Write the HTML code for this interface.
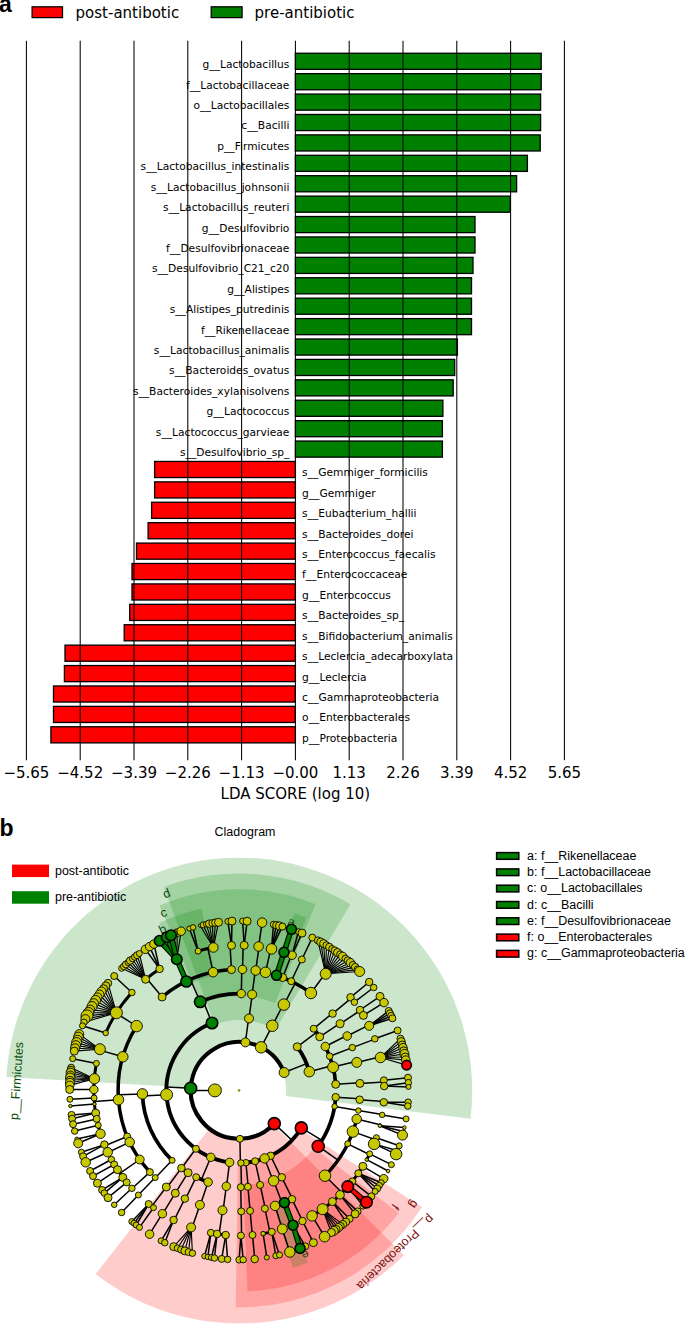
<!DOCTYPE html>
<html><head><meta charset="utf-8"><title>LEfSe</title>
<style>html,body{margin:0;padding:0;background:#fff}svg{display:block}</style></head>
<body><svg width="685" height="1324" viewBox="0 0 685 1324">
<rect width="685" height="1324" fill="#fff"/>
<g font-family="DejaVu Sans, Liberation Sans, sans-serif">
<rect x="32.1" y="6.8" width="30.4" height="10.8" fill="#ff0000" stroke="#000" stroke-width="1.25"/>
<text x="75.6" y="18.2" font-size="15">post-antibotic</text>
<rect x="211.2" y="6.8" width="30.9" height="10.8" fill="#008000" stroke="#000" stroke-width="1.25"/>
<text x="254.6" y="18.2" font-size="15">pre-antibiotic</text>
<rect x="295.4" y="53.25" width="245.8" height="16.1" fill="#008000" stroke="#000" stroke-width="1.3"/>
<rect x="295.4" y="73.66" width="245.8" height="16.1" fill="#008000" stroke="#000" stroke-width="1.3"/>
<rect x="295.4" y="94.07" width="245.2" height="16.1" fill="#008000" stroke="#000" stroke-width="1.3"/>
<rect x="295.4" y="114.48" width="245.2" height="16.1" fill="#008000" stroke="#000" stroke-width="1.3"/>
<rect x="295.4" y="134.89" width="244.8" height="16.1" fill="#008000" stroke="#000" stroke-width="1.3"/>
<rect x="295.4" y="155.30" width="232.0" height="16.1" fill="#008000" stroke="#000" stroke-width="1.3"/>
<rect x="295.4" y="175.71" width="221.2" height="16.1" fill="#008000" stroke="#000" stroke-width="1.3"/>
<rect x="295.4" y="196.12" width="214.9" height="16.1" fill="#008000" stroke="#000" stroke-width="1.3"/>
<rect x="295.4" y="216.53" width="179.6" height="16.1" fill="#008000" stroke="#000" stroke-width="1.3"/>
<rect x="295.4" y="236.94" width="179.6" height="16.1" fill="#008000" stroke="#000" stroke-width="1.3"/>
<rect x="295.4" y="257.35" width="177.6" height="16.1" fill="#008000" stroke="#000" stroke-width="1.3"/>
<rect x="295.4" y="277.76" width="176.1" height="16.1" fill="#008000" stroke="#000" stroke-width="1.3"/>
<rect x="295.4" y="298.17" width="176.1" height="16.1" fill="#008000" stroke="#000" stroke-width="1.3"/>
<rect x="295.4" y="318.58" width="176.1" height="16.1" fill="#008000" stroke="#000" stroke-width="1.3"/>
<rect x="295.4" y="338.99" width="162.0" height="16.1" fill="#008000" stroke="#000" stroke-width="1.3"/>
<rect x="295.4" y="359.40" width="159.3" height="16.1" fill="#008000" stroke="#000" stroke-width="1.3"/>
<rect x="295.4" y="379.81" width="157.8" height="16.1" fill="#008000" stroke="#000" stroke-width="1.3"/>
<rect x="295.4" y="400.22" width="147.5" height="16.1" fill="#008000" stroke="#000" stroke-width="1.3"/>
<rect x="295.4" y="420.63" width="147.0" height="16.1" fill="#008000" stroke="#000" stroke-width="1.3"/>
<rect x="295.4" y="441.04" width="147.0" height="16.1" fill="#008000" stroke="#000" stroke-width="1.3"/>
<rect x="154.6" y="461.45" width="140.8" height="16.1" fill="#ff0000" stroke="#000" stroke-width="1.3"/>
<rect x="154.6" y="481.86" width="140.8" height="16.1" fill="#ff0000" stroke="#000" stroke-width="1.3"/>
<rect x="151.6" y="502.27" width="143.8" height="16.1" fill="#ff0000" stroke="#000" stroke-width="1.3"/>
<rect x="148.1" y="522.68" width="147.3" height="16.1" fill="#ff0000" stroke="#000" stroke-width="1.3"/>
<rect x="136.5" y="543.09" width="158.9" height="16.1" fill="#ff0000" stroke="#000" stroke-width="1.3"/>
<rect x="132.0" y="563.50" width="163.4" height="16.1" fill="#ff0000" stroke="#000" stroke-width="1.3"/>
<rect x="132.0" y="583.91" width="163.4" height="16.1" fill="#ff0000" stroke="#000" stroke-width="1.3"/>
<rect x="129.7" y="604.32" width="165.7" height="16.1" fill="#ff0000" stroke="#000" stroke-width="1.3"/>
<rect x="124.2" y="624.73" width="171.2" height="16.1" fill="#ff0000" stroke="#000" stroke-width="1.3"/>
<rect x="65.0" y="645.14" width="230.4" height="16.1" fill="#ff0000" stroke="#000" stroke-width="1.3"/>
<rect x="64.4" y="665.55" width="231.0" height="16.1" fill="#ff0000" stroke="#000" stroke-width="1.3"/>
<rect x="53.5" y="685.96" width="241.8" height="16.1" fill="#ff0000" stroke="#000" stroke-width="1.3"/>
<rect x="53.5" y="706.37" width="241.8" height="16.1" fill="#ff0000" stroke="#000" stroke-width="1.3"/>
<rect x="50.9" y="726.78" width="244.5" height="16.1" fill="#ff0000" stroke="#000" stroke-width="1.3"/>
<text x="289.4" y="68.2" font-size="10.67" text-anchor="end">g__Lactobacillus</text>
<text x="289.4" y="88.6" font-size="10.67" text-anchor="end">f__Lactobacillaceae</text>
<text x="289.4" y="109.0" font-size="10.67" text-anchor="end">o__Lactobacillales</text>
<text x="289.4" y="129.4" font-size="10.67" text-anchor="end">c__Bacilli</text>
<text x="289.4" y="149.8" font-size="10.67" text-anchor="end">p__Firmicutes</text>
<text x="289.4" y="170.2" font-size="10.67" text-anchor="end">s__Lactobacillus_intestinalis</text>
<text x="289.4" y="190.7" font-size="10.67" text-anchor="end">s__Lactobacillus_johnsonii</text>
<text x="289.4" y="211.1" font-size="10.67" text-anchor="end">s__Lactobacillus_reuteri</text>
<text x="289.4" y="231.5" font-size="10.67" text-anchor="end">g__Desulfovibrio</text>
<text x="289.4" y="251.9" font-size="10.67" text-anchor="end">f__Desulfovibrionaceae</text>
<text x="289.4" y="272.3" font-size="10.67" text-anchor="end">s__Desulfovibrio_C21_c20</text>
<text x="289.4" y="292.7" font-size="10.67" text-anchor="end">g__Alistipes</text>
<text x="289.4" y="313.1" font-size="10.67" text-anchor="end">s__Alistipes_putredinis</text>
<text x="289.4" y="333.5" font-size="10.67" text-anchor="end">f__Rikenellaceae</text>
<text x="289.4" y="353.9" font-size="10.67" text-anchor="end">s__Lactobacillus_animalis</text>
<text x="289.4" y="374.3" font-size="10.67" text-anchor="end">s__Bacteroides_ovatus</text>
<text x="289.4" y="394.8" font-size="10.67" text-anchor="end">s__Bacteroides_xylanisolvens</text>
<text x="289.4" y="415.2" font-size="10.67" text-anchor="end">g__Lactococcus</text>
<text x="289.4" y="435.6" font-size="10.67" text-anchor="end">s__Lactococcus_garvieae</text>
<text x="289.4" y="456.0" font-size="10.67" text-anchor="end">s__Desulfovibrio_sp_</text>
<text x="302" y="476.4" font-size="10.67">s__Gemmiger_formicilis</text>
<text x="302" y="496.8" font-size="10.67">g__Gemmiger</text>
<text x="302" y="517.2" font-size="10.67">s__Eubacterium_hallii</text>
<text x="302" y="537.6" font-size="10.67">s__Bacteroides_dorei</text>
<text x="302" y="558.0" font-size="10.67">s__Enterococcus_faecalis</text>
<text x="302" y="578.4" font-size="10.67">f__Enterococcaceae</text>
<text x="302" y="598.9" font-size="10.67">g__Enterococcus</text>
<text x="302" y="619.3" font-size="10.67">s__Bacteroides_sp_</text>
<text x="302" y="639.7" font-size="10.67">s__Bifidobacterium_animalis</text>
<text x="302" y="660.1" font-size="10.67">s__Leclercia_adecarboxylata</text>
<text x="302" y="680.5" font-size="10.67">g__Leclercia</text>
<text x="302" y="700.9" font-size="10.67">c__Gammaproteobacteria</text>
<text x="302" y="721.3" font-size="10.67">o__Enterobacterales</text>
<text x="302" y="741.7" font-size="10.67">p__Proteobacteria</text>
<line x1="26.4" y1="40.8" x2="26.4" y2="760.2" stroke="#000" stroke-width="1.05"/>
<line x1="80.2" y1="40.8" x2="80.2" y2="760.2" stroke="#000" stroke-width="1.05"/>
<line x1="134.0" y1="40.8" x2="134.0" y2="760.2" stroke="#000" stroke-width="1.05"/>
<line x1="187.8" y1="40.8" x2="187.8" y2="760.2" stroke="#000" stroke-width="1.05"/>
<line x1="241.6" y1="40.8" x2="241.6" y2="760.2" stroke="#000" stroke-width="1.05"/>
<line x1="295.4" y1="40.8" x2="295.4" y2="760.2" stroke="#000" stroke-width="1.05"/>
<line x1="349.2" y1="40.8" x2="349.2" y2="760.2" stroke="#000" stroke-width="1.05"/>
<line x1="403.0" y1="40.8" x2="403.0" y2="760.2" stroke="#000" stroke-width="1.05"/>
<line x1="456.8" y1="40.8" x2="456.8" y2="760.2" stroke="#000" stroke-width="1.05"/>
<line x1="510.6" y1="40.8" x2="510.6" y2="760.2" stroke="#000" stroke-width="1.05"/>
<line x1="564.4" y1="40.8" x2="564.4" y2="760.2" stroke="#000" stroke-width="1.05"/>
<text x="26.4" y="777.9" font-size="15" text-anchor="middle">−5.65</text>
<text x="80.2" y="777.9" font-size="15" text-anchor="middle">−4.52</text>
<text x="134.0" y="777.9" font-size="15" text-anchor="middle">−3.39</text>
<text x="187.8" y="777.9" font-size="15" text-anchor="middle">−2.26</text>
<text x="241.6" y="777.9" font-size="15" text-anchor="middle">−1.13</text>
<text x="295.4" y="777.9" font-size="15" text-anchor="middle">−0.00</text>
<text x="349.2" y="777.9" font-size="15" text-anchor="middle">1.13</text>
<text x="403.0" y="777.9" font-size="15" text-anchor="middle">2.26</text>
<text x="456.8" y="777.9" font-size="15" text-anchor="middle">3.39</text>
<text x="510.6" y="777.9" font-size="15" text-anchor="middle">4.52</text>
<text x="564.4" y="777.9" font-size="15" text-anchor="middle">5.65</text>
<text x="295.4" y="799" font-size="15" text-anchor="middle">LDA SCORE (log 10)</text>
</g>
<g font-family="Liberation Sans, sans-serif" font-weight="bold" font-size="23">
<text x="-0.9" y="12.3">a</text>
<text x="-0.5" y="836">b</text>
</g>
<g>
<path d="M285.7,1096.1L470.5,1118.8A233.1,233.1 0 1 0 6.4,1077.0L192.2,1087.7A47,47 0 1 1 285.7,1096.1Z" fill="#008000" fill-opacity="0.2"/>
<path d="M275.3,1029.9L350.5,904.3A216.9,216.9 0 0 0 163.8,887.0L214.6,1024.3A70.5,70.5 0 0 1 275.3,1029.9Z" fill="#008000" fill-opacity="0.2"/>
<path d="M275.0,1003.0L315.4,904.2A201.2,201.2 0 0 0 159.5,905.6L201.7,1003.6A94.5,94.5 0 0 1 275.0,1003.0Z" fill="#008000" fill-opacity="0.2"/>
<path d="M215.3,975.3L201.5,908.7A185.6,185.6 0 0 0 159.2,922.9L188.5,984.3A117.5,117.5 0 0 1 215.3,975.3Z" fill="#008000" fill-opacity="0.2"/>
<path d="M281.6,980.9L306.2,917.4A185.6,185.6 0 0 0 294.3,913.2L274.0,978.2A117.5,117.5 0 0 1 281.6,980.9Z" fill="#008000" fill-opacity="0.2"/>
<path d="M210.2,1127.4L95.6,1274.1A233.1,233.1 0 0 0 403.9,1255.2L272.3,1123.6A47,47 0 0 1 210.2,1127.4Z" fill="#ff0000" fill-opacity="0.2"/>
<path d="M238.0,1160.9L235.7,1307.3A216.9,216.9 0 0 0 422.0,1206.9L298.6,1128.3A70.5,70.5 0 0 1 238.0,1160.9Z" fill="#ff0000" fill-opacity="0.2"/>
<path d="M243.1,1184.8L247.5,1291.4A201.2,201.2 0 0 0 398.7,1212.9L314.1,1147.9A94.5,94.5 0 0 1 243.1,1184.8Z" fill="#ff0000" fill-opacity="0.2"/>
<path d="M273.1,1202.9L292.7,1268.1A185.6,185.6 0 0 0 307.7,1262.8L282.5,1199.6A117.5,117.5 0 0 1 273.1,1202.9Z" fill="#008000" fill-opacity="0.2"/>
</g>
<g font-family="Liberation Sans, sans-serif"><text x="291.6" y="925.9" font-size="12.45" fill="#0a4d0a" text-anchor="middle" transform="rotate(17.3 291.6 921.7)">a</text>
<text x="162.6" y="933.4" font-size="12.45" fill="#0a4d0a" text-anchor="middle" transform="rotate(-25.4 162.6 929.2)">b</text>
<text x="163.6" y="916.8" font-size="12.45" fill="#0a4d0a" text-anchor="middle" transform="rotate(-23.0 163.6 912.6)">c</text>
<text x="166.6" y="897.5" font-size="12.45" fill="#0a4d0a" text-anchor="middle" transform="rotate(-20.2 166.6 893.3)">d</text>
<text x="305.3" y="1259.2" font-size="12.45" fill="#0a4d0a" text-anchor="middle" transform="rotate(158.1 305.3 1255.0)">e</text>
<text x="395.4" y="1211.1" font-size="12.45" fill="#7a1010" text-anchor="middle" transform="rotate(126.7 395.4 1206.9)">f</text>
<text x="414.2" y="1208.7" font-size="12.45" fill="#7a1010" text-anchor="middle" transform="rotate(123.1 414.2 1204.5)">g</text></g>
<g fill="none" stroke="#000" stroke-linecap="round">
<path d="M284.1,1072.5A48.4,48.4 0 1 0 274.3,1123.6" stroke-width="4.1"/>
<line x1="214.9" y1="1090.4" x2="190.7" y2="1090.4" stroke="#000" stroke-width="1.5"/>
<path d="M212.0,1023.0A72.6,72.6 0 0 0 229.6,1162.4" stroke-width="3.9"/>
<line x1="190.7" y1="1088.2" x2="166.6" y2="1087.1" stroke="#000" stroke-width="1.5"/>
<path d="M241.3,993.6A96.8,96.8 0 0 0 200.2,1001.8" stroke-width="3.7"/>
<line x1="212.0" y1="1023.0" x2="203.0" y2="1000.6" stroke="#000" stroke-width="1.5"/>
<path d="M231.5,969.6A121.0,121.0 0 0 0 162.1,997.0" stroke-width="3.5"/>
<line x1="200.2" y1="1001.8" x2="190.5" y2="979.6" stroke="#000" stroke-width="1.5"/>
<path d="M159.6,968.9A145.2,145.2 0 0 0 145.6,979.3" stroke-width="3.0"/>
<line x1="162.1" y1="997.0" x2="146.7" y2="978.4" stroke="#000" stroke-width="1.5"/>
<line x1="159.6" y1="968.9" x2="145.4" y2="949.3" stroke="#000" stroke-width="1.5"/>
<line x1="159.6" y1="968.9" x2="149.6" y2="946.6" stroke="#000" stroke-width="1.5"/>
<line x1="159.6" y1="968.9" x2="153.9" y2="944.0" stroke="#000" stroke-width="1.5"/>
<line x1="145.6" y1="979.3" x2="121.6" y2="968.3" stroke="#000" stroke-width="1.15"/>
<line x1="145.6" y1="979.3" x2="123.7" y2="966.4" stroke="#000" stroke-width="1.15"/>
<line x1="145.6" y1="979.3" x2="125.9" y2="964.4" stroke="#000" stroke-width="1.15"/>
<line x1="145.6" y1="979.3" x2="128.0" y2="962.5" stroke="#000" stroke-width="1.15"/>
<line x1="145.6" y1="979.3" x2="130.2" y2="960.6" stroke="#000" stroke-width="1.15"/>
<line x1="145.6" y1="979.3" x2="132.4" y2="958.8" stroke="#000" stroke-width="1.15"/>
<line x1="145.6" y1="979.3" x2="134.7" y2="957.0" stroke="#000" stroke-width="1.15"/>
<line x1="145.6" y1="979.3" x2="137.0" y2="955.2" stroke="#000" stroke-width="1.15"/>
<line x1="145.6" y1="979.3" x2="139.3" y2="953.5" stroke="#000" stroke-width="1.15"/>
<path d="M176.8,959.2A145.2,145.2 0 0 0 175.9,959.7" stroke-width="3.0"/>
<line x1="186.4" y1="981.5" x2="175.9" y2="959.7" stroke="#000" stroke-width="1.5"/>
<line x1="176.8" y1="959.2" x2="177.3" y2="932.7" stroke="#000" stroke-width="1.15"/>
<line x1="176.8" y1="959.2" x2="181.2" y2="931.2" stroke="#000" stroke-width="1.15"/>
<line x1="176.8" y1="959.2" x2="174.0" y2="934.0" stroke="#000" stroke-width="1.15"/>
<path d="M213.4,947.5A145.2,145.2 0 0 0 198.1,951.1" stroke-width="3.0"/>
<line x1="213.1" y1="972.2" x2="207.9" y2="948.6" stroke="#000" stroke-width="1.5"/>
<line x1="198.1" y1="951.1" x2="189.3" y2="928.5" stroke="#000" stroke-width="1.5"/>
<line x1="198.1" y1="951.1" x2="193.0" y2="927.4" stroke="#000" stroke-width="1.5"/>
<line x1="213.4" y1="947.5" x2="200.1" y2="925.5" stroke="#000" stroke-width="1.15"/>
<line x1="213.4" y1="947.5" x2="203.2" y2="924.9" stroke="#000" stroke-width="1.15"/>
<line x1="213.4" y1="947.5" x2="206.2" y2="924.2" stroke="#000" stroke-width="1.15"/>
<line x1="213.4" y1="947.5" x2="209.2" y2="923.7" stroke="#000" stroke-width="1.15"/>
<line x1="213.4" y1="947.5" x2="212.3" y2="923.1" stroke="#000" stroke-width="1.15"/>
<line x1="213.4" y1="947.5" x2="215.4" y2="922.7" stroke="#000" stroke-width="1.15"/>
<line x1="213.4" y1="947.5" x2="218.5" y2="922.3" stroke="#000" stroke-width="1.15"/>
<path d="M231.5,945.4A145.2,145.2 0 0 0 230.0,945.5" stroke-width="3.0"/>
<line x1="231.5" y1="969.6" x2="230.0" y2="945.5" stroke="#000" stroke-width="1.5"/>
<line x1="231.5" y1="945.4" x2="227.9" y2="921.4" stroke="#000" stroke-width="1.5"/>
<line x1="231.5" y1="945.4" x2="232.0" y2="921.1" stroke="#000" stroke-width="1.5"/>
<path d="M242.5,969.4A121.0,121.0 0 0 0 241.8,969.4" stroke-width="3.5"/>
<line x1="241.3" y1="993.6" x2="241.8" y2="969.4" stroke="#000" stroke-width="1.5"/>
<path d="M244.2,945.3A145.2,145.2 0 0 0 243.2,945.3" stroke-width="3.0"/>
<line x1="242.5" y1="969.4" x2="243.2" y2="945.3" stroke="#000" stroke-width="1.5"/>
<line x1="244.2" y1="945.3" x2="242.6" y2="921.0" stroke="#000" stroke-width="1.5"/>
<line x1="244.2" y1="945.3" x2="247.1" y2="921.2" stroke="#000" stroke-width="1.5"/>
<path d="M142.4,1093.9A96.8,96.8 0 0 0 172.1,1160.3" stroke-width="3.7"/>
<line x1="166.6" y1="1094.7" x2="142.5" y2="1096.1" stroke="#000" stroke-width="1.5"/>
<path d="M136.6,1026.1A121.0,121.0 0 0 0 149.9,1172.1" stroke-width="3.5"/>
<line x1="142.4" y1="1093.9" x2="118.2" y2="1094.8" stroke="#000" stroke-width="1.5"/>
<path d="M131.9,992.5A145.2,145.2 0 0 0 105.7,1033.0" stroke-width="3.0"/>
<line x1="136.6" y1="1026.1" x2="116.1" y2="1013.2" stroke="#000" stroke-width="1.5"/>
<line x1="131.9" y1="992.5" x2="114.2" y2="976.0" stroke="#000" stroke-width="1.5"/>
<line x1="116.4" y1="1012.8" x2="108.0" y2="983.1" stroke="#000" stroke-width="1.15"/>
<line x1="116.4" y1="1012.8" x2="105.8" y2="985.9" stroke="#000" stroke-width="1.15"/>
<line x1="116.4" y1="1012.8" x2="103.6" y2="988.7" stroke="#000" stroke-width="1.15"/>
<line x1="116.4" y1="1012.8" x2="101.5" y2="991.5" stroke="#000" stroke-width="1.15"/>
<line x1="116.4" y1="1012.8" x2="99.5" y2="994.5" stroke="#000" stroke-width="1.15"/>
<line x1="116.4" y1="1012.8" x2="97.5" y2="997.4" stroke="#000" stroke-width="1.15"/>
<line x1="116.4" y1="1012.8" x2="95.6" y2="1000.4" stroke="#000" stroke-width="1.15"/>
<line x1="116.4" y1="1012.8" x2="93.7" y2="1003.4" stroke="#000" stroke-width="1.15"/>
<line x1="116.4" y1="1012.8" x2="92.0" y2="1006.5" stroke="#000" stroke-width="1.15"/>
<line x1="116.4" y1="1012.8" x2="90.2" y2="1009.6" stroke="#000" stroke-width="1.15"/>
<line x1="116.4" y1="1012.8" x2="88.6" y2="1012.7" stroke="#000" stroke-width="1.15"/>
<line x1="116.4" y1="1012.8" x2="87.0" y2="1015.9" stroke="#000" stroke-width="1.15"/>
<line x1="116.4" y1="1012.8" x2="85.4" y2="1019.1" stroke="#000" stroke-width="1.15"/>
<line x1="116.4" y1="1012.8" x2="84.0" y2="1022.3" stroke="#000" stroke-width="1.15"/>
<line x1="105.7" y1="1033.0" x2="82.5" y2="1025.8" stroke="#000" stroke-width="1.5"/>
<path d="M99.9,1049.2A145.2,145.2 0 0 0 99.6,1050.1" stroke-width="3.0"/>
<line x1="122.8" y1="1056.8" x2="99.6" y2="1050.1" stroke="#000" stroke-width="1.5"/>
<line x1="99.9" y1="1049.2" x2="79.3" y2="1034.1" stroke="#000" stroke-width="1.15"/>
<line x1="99.9" y1="1049.2" x2="78.4" y2="1036.9" stroke="#000" stroke-width="1.15"/>
<line x1="99.9" y1="1049.2" x2="77.5" y2="1039.7" stroke="#000" stroke-width="1.15"/>
<line x1="99.9" y1="1049.2" x2="76.6" y2="1042.6" stroke="#000" stroke-width="1.15"/>
<line x1="99.9" y1="1049.2" x2="75.8" y2="1045.4" stroke="#000" stroke-width="1.15"/>
<line x1="99.9" y1="1049.2" x2="75.0" y2="1048.3" stroke="#000" stroke-width="1.15"/>
<line x1="99.9" y1="1049.2" x2="74.3" y2="1051.1" stroke="#000" stroke-width="1.15"/>
<path d="M96.4,1063.4A145.2,145.2 0 0 0 100.5,1133.8" stroke-width="3.0"/>
<line x1="118.5" y1="1099.7" x2="94.3" y2="1101.5" stroke="#000" stroke-width="1.5"/>
<line x1="96.4" y1="1063.4" x2="72.7" y2="1058.7" stroke="#000" stroke-width="1.5"/>
<line x1="94.4" y1="1078.8" x2="71.2" y2="1067.7" stroke="#000" stroke-width="1.15"/>
<line x1="94.4" y1="1078.8" x2="70.9" y2="1070.2" stroke="#000" stroke-width="1.15"/>
<line x1="94.4" y1="1078.8" x2="70.6" y2="1072.7" stroke="#000" stroke-width="1.15"/>
<line x1="94.4" y1="1078.8" x2="70.4" y2="1075.3" stroke="#000" stroke-width="1.15"/>
<line x1="94.4" y1="1078.8" x2="70.2" y2="1077.8" stroke="#000" stroke-width="1.15"/>
<line x1="94.4" y1="1078.8" x2="70.0" y2="1080.3" stroke="#000" stroke-width="1.15"/>
<line x1="94.4" y1="1078.8" x2="69.9" y2="1082.8" stroke="#000" stroke-width="1.15"/>
<line x1="94.4" y1="1078.8" x2="69.8" y2="1085.4" stroke="#000" stroke-width="1.15"/>
<line x1="93.9" y1="1089.6" x2="69.7" y2="1089.5" stroke="#000" stroke-width="1.5"/>
<line x1="94.1" y1="1098.0" x2="69.9" y2="1099.3" stroke="#000" stroke-width="1.5"/>
<line x1="94.5" y1="1104.1" x2="70.4" y2="1106.0" stroke="#000" stroke-width="1.5"/>
<line x1="95.7" y1="1113.1" x2="71.5" y2="1114.9" stroke="#000" stroke-width="1.5"/>
<line x1="95.7" y1="1113.1" x2="72.1" y2="1118.7" stroke="#000" stroke-width="1.5"/>
<line x1="96.7" y1="1118.9" x2="73.1" y2="1124.2" stroke="#000" stroke-width="1.5"/>
<line x1="98.2" y1="1125.3" x2="74.7" y2="1131.1" stroke="#000" stroke-width="1.5"/>
<line x1="100.5" y1="1133.8" x2="76.8" y2="1139.1" stroke="#000" stroke-width="1.5"/>
<line x1="100.5" y1="1133.8" x2="78.2" y2="1143.3" stroke="#000" stroke-width="1.5"/>
<path d="M104.4,1144.6A145.2,145.2 0 0 0 104.9,1145.7" stroke-width="3.0"/>
<line x1="127.2" y1="1136.5" x2="104.9" y2="1145.7" stroke="#000" stroke-width="1.5"/>
<line x1="104.4" y1="1144.6" x2="81.4" y2="1152.2" stroke="#000" stroke-width="1.5"/>
<line x1="104.4" y1="1144.6" x2="83.1" y2="1156.3" stroke="#000" stroke-width="1.5"/>
<path d="M107.7,1152.2A145.2,145.2 0 0 0 107.8,1152.5" stroke-width="3.0"/>
<line x1="129.7" y1="1142.1" x2="107.8" y2="1152.5" stroke="#000" stroke-width="1.5"/>
<line x1="107.7" y1="1152.2" x2="85.7" y2="1162.3" stroke="#000" stroke-width="1.5"/>
<path d="M111.4,1159.5A145.2,145.2 0 0 0 126.7,1182.4" stroke-width="3.0"/>
<line x1="139.7" y1="1159.5" x2="119.9" y2="1173.3" stroke="#000" stroke-width="1.5"/>
<line x1="111.4" y1="1159.5" x2="90.1" y2="1171.0" stroke="#000" stroke-width="1.5"/>
<line x1="114.2" y1="1164.5" x2="93.0" y2="1176.1" stroke="#000" stroke-width="1.5"/>
<line x1="117.5" y1="1169.7" x2="97.4" y2="1183.2" stroke="#000" stroke-width="1.5"/>
<line x1="122.8" y1="1177.4" x2="102.1" y2="1190.0" stroke="#000" stroke-width="1.5"/>
<line x1="122.8" y1="1177.4" x2="104.3" y2="1193.1" stroke="#000" stroke-width="1.5"/>
<line x1="126.7" y1="1182.4" x2="108.0" y2="1197.7" stroke="#000" stroke-width="1.5"/>
<path d="M131.9,1188.3A145.2,145.2 0 0 0 132.0,1188.5" stroke-width="3.0"/>
<line x1="149.9" y1="1172.1" x2="132.0" y2="1188.5" stroke="#000" stroke-width="1.5"/>
<line x1="131.9" y1="1188.3" x2="114.2" y2="1204.8" stroke="#000" stroke-width="1.5"/>
<path d="M155.2,1177.6A121.0,121.0 0 0 0 155.4,1177.7" stroke-width="3.5"/>
<line x1="172.1" y1="1160.3" x2="155.4" y2="1177.7" stroke="#000" stroke-width="1.5"/>
<line x1="155.2" y1="1177.6" x2="138.4" y2="1195.0" stroke="#000" stroke-width="1.5"/>
<line x1="138.4" y1="1195.0" x2="121.6" y2="1212.5" stroke="#000" stroke-width="1.5"/>
<path d="M181.4,1168.1A96.8,96.8 0 0 0 188.1,1172.7" stroke-width="3.7"/>
<line x1="195.9" y1="1148.8" x2="181.5" y2="1168.2" stroke="#000" stroke-width="1.5"/>
<path d="M166.3,1187.0A121.0,121.0 0 0 0 167.0,1187.5" stroke-width="3.5"/>
<line x1="181.4" y1="1168.1" x2="167.0" y2="1187.5" stroke="#000" stroke-width="1.5"/>
<path d="M148.7,1204.0A145.2,145.2 0 0 0 153.5,1207.7" stroke-width="3.0"/>
<line x1="166.3" y1="1187.0" x2="151.7" y2="1206.4" stroke="#000" stroke-width="1.5"/>
<line x1="148.7" y1="1204.0" x2="131.8" y2="1221.5" stroke="#000" stroke-width="1.5"/>
<line x1="148.7" y1="1204.0" x2="134.0" y2="1223.2" stroke="#000" stroke-width="1.5"/>
<line x1="148.7" y1="1204.0" x2="136.2" y2="1225.0" stroke="#000" stroke-width="1.5"/>
<line x1="153.5" y1="1207.7" x2="139.5" y2="1227.4" stroke="#000" stroke-width="1.5"/>
<line x1="188.1" y1="1172.7" x2="175.3" y2="1193.2" stroke="#000" stroke-width="1.5"/>
<path d="M162.4,1213.7A145.2,145.2 0 0 0 162.6,1213.8" stroke-width="3.0"/>
<line x1="175.3" y1="1193.2" x2="162.6" y2="1213.8" stroke="#000" stroke-width="1.5"/>
<line x1="162.4" y1="1213.7" x2="149.6" y2="1234.2" stroke="#000" stroke-width="1.5"/>
<path d="M196.2,1177.2A96.8,96.8 0 0 0 208.1,1182.1" stroke-width="3.7"/>
<line x1="210.8" y1="1157.3" x2="201.4" y2="1179.6" stroke="#000" stroke-width="1.5"/>
<path d="M184.9,1198.6A121.0,121.0 0 0 0 185.5,1198.9" stroke-width="3.5"/>
<line x1="196.2" y1="1177.2" x2="185.5" y2="1198.9" stroke="#000" stroke-width="1.5"/>
<path d="M173.6,1220.0A145.2,145.2 0 0 0 174.1,1220.2" stroke-width="3.0"/>
<line x1="184.9" y1="1198.6" x2="174.1" y2="1220.2" stroke="#000" stroke-width="1.5"/>
<line x1="173.6" y1="1220.0" x2="161.1" y2="1240.8" stroke="#000" stroke-width="1.5"/>
<line x1="173.6" y1="1220.0" x2="164.8" y2="1242.7" stroke="#000" stroke-width="1.5"/>
<path d="M199.9,1204.9A121.0,121.0 0 0 0 200.3,1205.0" stroke-width="3.5"/>
<line x1="208.1" y1="1182.1" x2="200.3" y2="1205.0" stroke="#000" stroke-width="1.5"/>
<path d="M191.1,1227.4A145.2,145.2 0 0 0 192.1,1227.8" stroke-width="3.0"/>
<line x1="199.9" y1="1204.9" x2="192.1" y2="1227.8" stroke="#000" stroke-width="1.5"/>
<line x1="191.1" y1="1227.4" x2="173.7" y2="1246.7" stroke="#000" stroke-width="1.15"/>
<line x1="191.1" y1="1227.4" x2="177.4" y2="1248.2" stroke="#000" stroke-width="1.15"/>
<line x1="191.1" y1="1227.4" x2="181.1" y2="1249.6" stroke="#000" stroke-width="1.15"/>
<line x1="191.1" y1="1227.4" x2="184.8" y2="1250.9" stroke="#000" stroke-width="1.15"/>
<line x1="191.1" y1="1227.4" x2="188.6" y2="1252.1" stroke="#000" stroke-width="1.15"/>
<line x1="191.1" y1="1227.4" x2="192.4" y2="1253.2" stroke="#000" stroke-width="1.15"/>
<path d="M226.3,1186.3A96.8,96.8 0 0 0 226.5,1186.4" stroke-width="3.7"/>
<line x1="229.6" y1="1162.4" x2="226.5" y2="1186.4" stroke="#000" stroke-width="1.5"/>
<path d="M222.5,1210.3A121.0,121.0 0 0 0 223.1,1210.3" stroke-width="3.5"/>
<line x1="226.3" y1="1186.3" x2="223.1" y2="1210.3" stroke="#000" stroke-width="1.5"/>
<path d="M210.9,1232.8A145.2,145.2 0 0 0 225.7,1235.0" stroke-width="3.0"/>
<line x1="222.5" y1="1210.3" x2="219.1" y2="1234.2" stroke="#000" stroke-width="1.5"/>
<line x1="210.9" y1="1232.8" x2="204.5" y2="1256.2" stroke="#000" stroke-width="1.5"/>
<line x1="210.9" y1="1232.8" x2="207.9" y2="1256.9" stroke="#000" stroke-width="1.5"/>
<line x1="217.1" y1="1233.9" x2="211.4" y2="1257.5" stroke="#000" stroke-width="1.5"/>
<line x1="217.1" y1="1233.9" x2="214.4" y2="1258.0" stroke="#000" stroke-width="1.5"/>
<line x1="225.7" y1="1235.0" x2="221.7" y2="1258.9" stroke="#000" stroke-width="1.5"/>
<line x1="225.7" y1="1235.0" x2="227.6" y2="1259.4" stroke="#000" stroke-width="1.5"/>
<path d="M249.0,1018.5A72.6,72.6 0 0 0 248.6,1018.4" stroke-width="3.9"/>
<line x1="245.4" y1="1042.4" x2="248.6" y2="1018.4" stroke="#000" stroke-width="1.5"/>
<path d="M252.2,994.5A96.8,96.8 0 0 0 252.1,994.5" stroke-width="3.7"/>
<line x1="249.0" y1="1018.5" x2="252.2" y2="994.5" stroke="#000" stroke-width="1.5"/>
<path d="M265.5,972.3A121.0,121.0 0 0 0 255.3,970.5" stroke-width="3.5"/>
<line x1="252.1" y1="994.5" x2="255.3" y2="970.5" stroke="#000" stroke-width="1.5"/>
<path d="M259.1,946.6A145.2,145.2 0 0 0 258.6,946.5" stroke-width="3.0"/>
<line x1="255.7" y1="970.5" x2="259.1" y2="946.6" stroke="#000" stroke-width="1.5"/>
<line x1="258.6" y1="946.5" x2="262.1" y2="922.6" stroke="#000" stroke-width="1.5"/>
<path d="M271.5,948.9A145.2,145.2 0 0 0 270.8,948.7" stroke-width="3.0"/>
<line x1="265.5" y1="972.3" x2="270.8" y2="948.7" stroke="#000" stroke-width="1.5"/>
<line x1="271.5" y1="948.9" x2="273.5" y2="924.5" stroke="#000" stroke-width="1.5"/>
<line x1="271.5" y1="948.9" x2="276.4" y2="925.2" stroke="#000" stroke-width="1.5"/>
<line x1="271.5" y1="948.9" x2="279.4" y2="925.9" stroke="#000" stroke-width="1.5"/>
<line x1="271.5" y1="948.9" x2="282.4" y2="926.6" stroke="#000" stroke-width="1.5"/>
<path d="M272.3,1025.8A72.6,72.6 0 0 0 272.2,1025.8" stroke-width="3.9"/>
<line x1="261.1" y1="1047.3" x2="272.2" y2="1025.8" stroke="#000" stroke-width="1.5"/>
<path d="M283.9,1004.6A96.8,96.8 0 0 0 283.3,1004.3" stroke-width="3.7"/>
<line x1="272.3" y1="1025.8" x2="283.3" y2="1004.3" stroke="#000" stroke-width="1.5"/>
<path d="M310.9,993.0A121.0,121.0 0 0 0 276.5,975.3" stroke-width="3.5"/>
<line x1="283.9" y1="1004.6" x2="295.2" y2="983.2" stroke="#000" stroke-width="1.5"/>
<line x1="276.5" y1="975.3" x2="284.0" y2="952.3" stroke="#000" stroke-width="1.5"/>
<path d="M292.1,955.2A145.2,145.2 0 0 0 291.4,954.9" stroke-width="3.0"/>
<line x1="282.7" y1="977.5" x2="291.4" y2="954.9" stroke="#000" stroke-width="1.5"/>
<line x1="292.1" y1="955.2" x2="298.4" y2="931.7" stroke="#000" stroke-width="1.5"/>
<line x1="292.1" y1="955.2" x2="302.0" y2="933.1" stroke="#000" stroke-width="1.5"/>
<path d="M301.8,959.5A145.2,145.2 0 0 0 301.6,959.3" stroke-width="3.0"/>
<line x1="291.2" y1="981.2" x2="301.6" y2="959.3" stroke="#000" stroke-width="1.5"/>
<line x1="301.8" y1="959.5" x2="312.3" y2="937.6" stroke="#000" stroke-width="1.5"/>
<path d="M325.7,973.8A145.2,145.2 0 0 0 325.3,973.5" stroke-width="3.0"/>
<line x1="310.9" y1="993.0" x2="325.3" y2="973.5" stroke="#000" stroke-width="1.5"/>
<line x1="325.7" y1="973.8" x2="317.8" y2="940.4" stroke="#000" stroke-width="1.15"/>
<line x1="325.7" y1="973.8" x2="320.7" y2="942.0" stroke="#000" stroke-width="1.15"/>
<line x1="325.7" y1="973.8" x2="323.6" y2="943.6" stroke="#000" stroke-width="1.15"/>
<line x1="325.7" y1="973.8" x2="326.4" y2="945.3" stroke="#000" stroke-width="1.15"/>
<line x1="325.7" y1="973.8" x2="329.3" y2="947.0" stroke="#000" stroke-width="1.15"/>
<line x1="325.7" y1="973.8" x2="332.0" y2="948.8" stroke="#000" stroke-width="1.15"/>
<line x1="325.7" y1="973.8" x2="334.8" y2="950.6" stroke="#000" stroke-width="1.15"/>
<line x1="325.7" y1="973.8" x2="337.5" y2="952.5" stroke="#000" stroke-width="1.15"/>
<line x1="325.7" y1="973.8" x2="340.1" y2="954.4" stroke="#000" stroke-width="1.15"/>
<line x1="325.7" y1="973.8" x2="342.7" y2="956.4" stroke="#000" stroke-width="1.15"/>
<line x1="325.7" y1="973.8" x2="345.3" y2="958.4" stroke="#000" stroke-width="1.15"/>
<line x1="325.7" y1="973.8" x2="347.9" y2="960.5" stroke="#000" stroke-width="1.15"/>
<line x1="325.7" y1="973.8" x2="350.4" y2="962.7" stroke="#000" stroke-width="1.15"/>
<line x1="325.7" y1="973.8" x2="352.8" y2="964.9" stroke="#000" stroke-width="1.15"/>
<line x1="325.7" y1="973.8" x2="355.2" y2="967.1" stroke="#000" stroke-width="1.15"/>
<line x1="325.7" y1="973.8" x2="357.6" y2="969.4" stroke="#000" stroke-width="1.15"/>
<line x1="325.7" y1="973.8" x2="359.7" y2="971.5" stroke="#000" stroke-width="1.15"/>
<path d="M309.3,1071.7A72.6,72.6 0 0 0 297.2,1046.8" stroke-width="3.9"/>
<line x1="284.1" y1="1072.5" x2="306.6" y2="1063.6" stroke="#000" stroke-width="1.5"/>
<path d="M319.7,1036.8A96.8,96.8 0 0 0 313.7,1028.7" stroke-width="3.7"/>
<line x1="297.2" y1="1046.8" x2="316.5" y2="1032.3" stroke="#000" stroke-width="1.5"/>
<path d="M332.6,1013.6A121.0,121.0 0 0 0 332.3,1013.3" stroke-width="3.5"/>
<line x1="313.7" y1="1028.7" x2="332.3" y2="1013.3" stroke="#000" stroke-width="1.5"/>
<path d="M354.4,1002.2A145.2,145.2 0 0 0 350.5,997.3" stroke-width="3.0"/>
<line x1="332.6" y1="1013.6" x2="351.3" y2="998.2" stroke="#000" stroke-width="1.5"/>
<line x1="350.5" y1="997.3" x2="369.2" y2="982.0" stroke="#000" stroke-width="1.5"/>
<line x1="354.4" y1="1002.2" x2="373.7" y2="987.5" stroke="#000" stroke-width="1.5"/>
<path d="M340.1,1023.8A121.0,121.0 0 0 0 339.9,1023.4" stroke-width="3.5"/>
<line x1="319.7" y1="1036.8" x2="339.9" y2="1023.4" stroke="#000" stroke-width="1.5"/>
<path d="M363.4,1015.4A145.2,145.2 0 0 0 360.0,1010.0" stroke-width="3.0"/>
<line x1="340.1" y1="1023.8" x2="360.3" y2="1010.5" stroke="#000" stroke-width="1.5"/>
<line x1="360.0" y1="1010.0" x2="380.0" y2="996.4" stroke="#000" stroke-width="1.5"/>
<line x1="363.4" y1="1015.4" x2="384.0" y2="1002.6" stroke="#000" stroke-width="1.5"/>
<path d="M335.7,1084.3A96.8,96.8 0 0 0 325.3,1046.5" stroke-width="3.7"/>
<line x1="309.3" y1="1071.7" x2="332.6" y2="1065.5" stroke="#000" stroke-width="1.5"/>
<path d="M347.2,1036.0A121.0,121.0 0 0 0 346.9,1035.5" stroke-width="3.5"/>
<line x1="325.3" y1="1046.5" x2="346.9" y2="1035.5" stroke="#000" stroke-width="1.5"/>
<path d="M369.2,1025.8A145.2,145.2 0 0 0 368.8,1025.2" stroke-width="3.0"/>
<line x1="347.2" y1="1036.0" x2="368.8" y2="1025.2" stroke="#000" stroke-width="1.5"/>
<line x1="369.2" y1="1025.8" x2="388.7" y2="1010.9" stroke="#000" stroke-width="1.5"/>
<line x1="369.2" y1="1025.8" x2="389.9" y2="1013.3" stroke="#000" stroke-width="1.5"/>
<line x1="369.2" y1="1025.8" x2="391.2" y2="1015.8" stroke="#000" stroke-width="1.5"/>
<line x1="369.2" y1="1025.8" x2="392.4" y2="1018.3" stroke="#000" stroke-width="1.5"/>
<line x1="329.7" y1="1056.2" x2="352.3" y2="1047.6" stroke="#000" stroke-width="1.5"/>
<path d="M374.9,1039.1A145.2,145.2 0 0 0 374.8,1038.8" stroke-width="3.0"/>
<line x1="352.3" y1="1047.6" x2="374.9" y2="1039.1" stroke="#000" stroke-width="1.5"/>
<line x1="374.8" y1="1038.8" x2="397.6" y2="1030.5" stroke="#000" stroke-width="1.5"/>
<path d="M356.8,1062.4A121.0,121.0 0 0 0 356.6,1061.3" stroke-width="3.5"/>
<line x1="333.1" y1="1067.1" x2="356.6" y2="1061.3" stroke="#000" stroke-width="1.5"/>
<path d="M380.5,1057.5A145.2,145.2 0 0 0 380.3,1056.8" stroke-width="3.0"/>
<line x1="356.8" y1="1062.4" x2="380.3" y2="1056.8" stroke="#000" stroke-width="1.5"/>
<line x1="380.5" y1="1057.5" x2="400.4" y2="1038.6" stroke="#000" stroke-width="1.15"/>
<line x1="380.5" y1="1057.5" x2="401.3" y2="1041.6" stroke="#000" stroke-width="1.15"/>
<line x1="380.5" y1="1057.5" x2="402.2" y2="1044.7" stroke="#000" stroke-width="1.15"/>
<line x1="380.5" y1="1057.5" x2="403.0" y2="1047.7" stroke="#000" stroke-width="1.15"/>
<line x1="380.5" y1="1057.5" x2="403.8" y2="1050.8" stroke="#000" stroke-width="1.15"/>
<line x1="380.5" y1="1057.5" x2="404.5" y2="1053.9" stroke="#000" stroke-width="1.15"/>
<line x1="380.5" y1="1057.5" x2="405.2" y2="1057.0" stroke="#000" stroke-width="1.15"/>
<line x1="380.5" y1="1057.5" x2="405.8" y2="1060.1" stroke="#000" stroke-width="1.15"/>
<line x1="380.5" y1="1057.5" x2="406.6" y2="1065.1" stroke="#000" stroke-width="1.15"/>
<path d="M359.9,1083.4A121.0,121.0 0 0 0 359.9,1082.8" stroke-width="3.5"/>
<line x1="335.7" y1="1084.3" x2="359.9" y2="1082.8" stroke="#000" stroke-width="1.5"/>
<path d="M384.2,1086.1A145.2,145.2 0 0 0 383.9,1080.3" stroke-width="3.0"/>
<line x1="359.9" y1="1083.4" x2="384.1" y2="1082.0" stroke="#000" stroke-width="1.5"/>
<line x1="383.9" y1="1080.3" x2="408.0" y2="1077.7" stroke="#000" stroke-width="1.5"/>
<line x1="384.2" y1="1086.1" x2="408.3" y2="1082.7" stroke="#000" stroke-width="1.5"/>
<line x1="384.2" y1="1086.1" x2="408.5" y2="1086.9" stroke="#000" stroke-width="1.5"/>
<path d="M245.9,1162.7A72.6,72.6 0 0 0 301.3,1127.9" stroke-width="3.9"/>
<line x1="274.3" y1="1123.6" x2="291.9" y2="1140.2" stroke="#000" stroke-width="1.5"/>
<path d="M318.2,1146.2A96.8,96.8 0 0 0 335.7,1097.2" stroke-width="3.7"/>
<line x1="301.3" y1="1127.9" x2="322.0" y2="1140.4" stroke="#000" stroke-width="1.5"/>
<path d="M359.7,1099.7A121.0,121.0 0 0 0 359.8,1098.8" stroke-width="3.5"/>
<line x1="335.7" y1="1097.2" x2="359.8" y2="1098.8" stroke="#000" stroke-width="1.5"/>
<path d="M383.8,1102.3A145.2,145.2 0 0 0 383.9,1101.5" stroke-width="3.0"/>
<line x1="359.7" y1="1099.7" x2="383.9" y2="1101.5" stroke="#000" stroke-width="1.5"/>
<line x1="383.8" y1="1102.3" x2="408.1" y2="1102.2" stroke="#000" stroke-width="1.5"/>
<line x1="383.8" y1="1102.3" x2="407.8" y2="1106.0" stroke="#000" stroke-width="1.5"/>
<path d="M358.4,1110.6A121.0,121.0 0 0 0 358.4,1110.4" stroke-width="3.5"/>
<line x1="334.6" y1="1106.4" x2="358.4" y2="1110.4" stroke="#000" stroke-width="1.5"/>
<path d="M382.2,1114.9A145.2,145.2 0 0 0 382.3,1114.6" stroke-width="3.0"/>
<line x1="358.4" y1="1110.6" x2="382.3" y2="1114.6" stroke="#000" stroke-width="1.5"/>
<line x1="382.2" y1="1114.9" x2="406.1" y2="1118.9" stroke="#000" stroke-width="1.5"/>
<path d="M325.0,1175.7A121.0,121.0 0 0 0 356.7,1119.1" stroke-width="3.5"/>
<line x1="318.2" y1="1146.2" x2="338.0" y2="1160.1" stroke="#000" stroke-width="1.5"/>
<path d="M379.9,1125.8A145.2,145.2 0 0 0 380.2,1124.8" stroke-width="3.0"/>
<line x1="356.7" y1="1119.1" x2="380.2" y2="1124.8" stroke="#000" stroke-width="1.5"/>
<line x1="379.9" y1="1125.8" x2="404.4" y2="1127.6" stroke="#000" stroke-width="1.5"/>
<line x1="379.9" y1="1125.8" x2="403.5" y2="1131.4" stroke="#000" stroke-width="1.5"/>
<line x1="379.9" y1="1125.8" x2="402.5" y2="1135.1" stroke="#000" stroke-width="1.5"/>
<path d="M374.1,1143.9A145.2,145.2 0 0 0 376.4,1137.7" stroke-width="3.0"/>
<line x1="352.9" y1="1131.6" x2="375.6" y2="1139.8" stroke="#000" stroke-width="1.5"/>
<line x1="376.4" y1="1137.7" x2="399.2" y2="1145.8" stroke="#000" stroke-width="1.5"/>
<line x1="374.1" y1="1143.9" x2="397.4" y2="1150.8" stroke="#000" stroke-width="1.5"/>
<line x1="374.1" y1="1143.9" x2="396.1" y2="1154.1" stroke="#000" stroke-width="1.5"/>
<path d="M366.7,1159.7A145.2,145.2 0 0 0 369.7,1153.8" stroke-width="3.0"/>
<line x1="347.7" y1="1143.8" x2="369.4" y2="1154.5" stroke="#000" stroke-width="1.5"/>
<line x1="369.7" y1="1153.8" x2="391.4" y2="1164.7" stroke="#000" stroke-width="1.5"/>
<line x1="366.7" y1="1159.7" x2="388.1" y2="1171.0" stroke="#000" stroke-width="1.5"/>
<path d="M312.1,1215.9A145.2,145.2 0 0 0 362.9,1166.3" stroke-width="3.0"/>
<line x1="325.0" y1="1175.7" x2="342.1" y2="1192.7" stroke="#000" stroke-width="1.5"/>
<line x1="362.9" y1="1166.3" x2="383.7" y2="1178.7" stroke="#000" stroke-width="1.5"/>
<line x1="358.3" y1="1173.3" x2="381.2" y2="1182.7" stroke="#000" stroke-width="1.5"/>
<line x1="358.3" y1="1173.3" x2="379.2" y2="1185.6" stroke="#000" stroke-width="1.5"/>
<line x1="358.3" y1="1173.3" x2="377.2" y2="1188.5" stroke="#000" stroke-width="1.5"/>
<line x1="358.3" y1="1173.3" x2="375.1" y2="1191.4" stroke="#000" stroke-width="1.5"/>
<line x1="352.3" y1="1181.4" x2="371.3" y2="1196.3" stroke="#000" stroke-width="1.5"/>
<line x1="347.8" y1="1186.6" x2="363.0" y2="1205.9" stroke="#000" stroke-width="1.5"/>
<line x1="340.0" y1="1194.8" x2="357.6" y2="1211.4" stroke="#000" stroke-width="1.5"/>
<line x1="340.0" y1="1194.8" x2="355.1" y2="1213.9" stroke="#000" stroke-width="1.5"/>
<line x1="332.4" y1="1201.6" x2="349.6" y2="1218.8" stroke="#000" stroke-width="1.5"/>
<line x1="332.4" y1="1201.6" x2="345.9" y2="1221.9" stroke="#000" stroke-width="1.5"/>
<line x1="322.6" y1="1209.2" x2="342.7" y2="1224.4" stroke="#000" stroke-width="1.15"/>
<line x1="322.6" y1="1209.2" x2="340.5" y2="1226.1" stroke="#000" stroke-width="1.15"/>
<line x1="322.6" y1="1209.2" x2="338.2" y2="1227.8" stroke="#000" stroke-width="1.15"/>
<line x1="322.6" y1="1209.2" x2="336.0" y2="1229.4" stroke="#000" stroke-width="1.15"/>
<line x1="322.6" y1="1209.2" x2="333.7" y2="1230.9" stroke="#000" stroke-width="1.15"/>
<line x1="322.6" y1="1209.2" x2="331.4" y2="1232.5" stroke="#000" stroke-width="1.15"/>
<line x1="312.1" y1="1215.9" x2="324.6" y2="1236.7" stroke="#000" stroke-width="1.5"/>
<path d="M281.1,1177.6A96.8,96.8 0 0 0 281.8,1177.3" stroke-width="3.7"/>
<line x1="270.6" y1="1155.8" x2="281.1" y2="1177.6" stroke="#000" stroke-width="1.5"/>
<path d="M292.0,1199.2A121.0,121.0 0 0 0 292.5,1199.0" stroke-width="3.5"/>
<line x1="281.8" y1="1177.3" x2="292.5" y2="1199.0" stroke="#000" stroke-width="1.5"/>
<line x1="292.0" y1="1199.2" x2="302.5" y2="1221.0" stroke="#000" stroke-width="1.5"/>
<line x1="302.5" y1="1221.0" x2="313.4" y2="1242.7" stroke="#000" stroke-width="1.5"/>
<path d="M273.2,1181.0A96.8,96.8 0 0 0 273.6,1180.8" stroke-width="3.7"/>
<line x1="264.6" y1="1158.4" x2="273.2" y2="1181.0" stroke="#000" stroke-width="1.5"/>
<path d="M275.1,1205.9A121.0,121.0 0 0 0 284.4,1202.6" stroke-width="3.5"/>
<line x1="273.6" y1="1180.8" x2="282.3" y2="1203.4" stroke="#000" stroke-width="1.5"/>
<line x1="275.1" y1="1205.9" x2="282.3" y2="1229.0" stroke="#000" stroke-width="1.5"/>
<line x1="282.3" y1="1229.0" x2="289.8" y2="1252.0" stroke="#000" stroke-width="1.5"/>
<path d="M293.0,1225.2A145.2,145.2 0 0 0 293.5,1225.0" stroke-width="3.0"/>
<line x1="284.4" y1="1202.6" x2="293.5" y2="1225.0" stroke="#000" stroke-width="1.5"/>
<line x1="293.0" y1="1225.2" x2="305.3" y2="1246.3" stroke="#000" stroke-width="1.5"/>
<path d="M260.1,1184.9A96.8,96.8 0 0 0 260.4,1184.8" stroke-width="3.7"/>
<line x1="255.1" y1="1161.2" x2="260.4" y2="1184.8" stroke="#000" stroke-width="1.5"/>
<path d="M264.9,1208.6A121.0,121.0 0 0 0 265.3,1208.5" stroke-width="3.5"/>
<line x1="260.1" y1="1184.9" x2="265.3" y2="1208.5" stroke="#000" stroke-width="1.5"/>
<path d="M263.1,1233.6A145.2,145.2 0 0 0 271.8,1231.9" stroke-width="3.0"/>
<line x1="264.9" y1="1208.6" x2="270.0" y2="1232.3" stroke="#000" stroke-width="1.5"/>
<line x1="263.1" y1="1233.6" x2="266.8" y2="1257.5" stroke="#000" stroke-width="1.5"/>
<line x1="271.8" y1="1231.9" x2="275.8" y2="1255.8" stroke="#000" stroke-width="1.5"/>
<line x1="271.8" y1="1231.9" x2="279.5" y2="1254.9" stroke="#000" stroke-width="1.5"/>
<path d="M247.9,1186.8A96.8,96.8 0 0 0 248.2,1186.8" stroke-width="3.7"/>
<line x1="245.9" y1="1162.7" x2="248.2" y2="1186.8" stroke="#000" stroke-width="1.5"/>
<line x1="247.9" y1="1186.8" x2="250.1" y2="1210.9" stroke="#000" stroke-width="1.5"/>
<path d="M252.3,1235.0A145.2,145.2 0 0 0 252.5,1235.0" stroke-width="3.0"/>
<line x1="250.1" y1="1210.9" x2="252.3" y2="1235.0" stroke="#000" stroke-width="1.5"/>
<line x1="252.5" y1="1235.0" x2="254.7" y2="1259.1" stroke="#000" stroke-width="1.5"/>
<path d="M240.4,1163.0A72.6,72.6 0 0 0 240.9,1163.0" stroke-width="3.9"/>
<line x1="239.9" y1="1138.8" x2="240.4" y2="1163.0" stroke="#000" stroke-width="1.5"/>
<path d="M240.8,1187.2A96.8,96.8 0 0 0 241.5,1187.2" stroke-width="3.7"/>
<line x1="240.9" y1="1163.0" x2="241.5" y2="1187.2" stroke="#000" stroke-width="1.5"/>
<line x1="240.8" y1="1187.2" x2="241.2" y2="1211.4" stroke="#000" stroke-width="1.5"/>
<path d="M240.9,1235.6A145.2,145.2 0 0 0 241.6,1235.6" stroke-width="3.0"/>
<line x1="241.2" y1="1211.4" x2="241.6" y2="1235.6" stroke="#000" stroke-width="1.5"/>
<line x1="240.9" y1="1235.6" x2="239.1" y2="1259.8" stroke="#000" stroke-width="1.5"/>
<line x1="240.9" y1="1235.6" x2="243.2" y2="1259.7" stroke="#000" stroke-width="1.5"/>
<line x1="186.4" y1="981.5" x2="176.8" y2="959.2" stroke="#000" stroke-width="5.6"/>
<line x1="186.4" y1="981.5" x2="176.8" y2="959.2" stroke="#008000" stroke-width="3.4"/>
<line x1="176.8" y1="959.2" x2="159.6" y2="940.8" stroke="#000" stroke-width="5.6"/>
<line x1="176.8" y1="959.2" x2="159.6" y2="940.8" stroke="#008000" stroke-width="3.4"/>
<line x1="176.8" y1="959.2" x2="166.7" y2="937.2" stroke="#000" stroke-width="5.6"/>
<line x1="176.8" y1="959.2" x2="166.7" y2="937.2" stroke="#008000" stroke-width="3.4"/>
<line x1="176.8" y1="959.2" x2="171.0" y2="935.3" stroke="#000" stroke-width="5.6"/>
<line x1="176.8" y1="959.2" x2="171.0" y2="935.3" stroke="#008000" stroke-width="3.4"/>
<line x1="276.5" y1="975.3" x2="284.0" y2="952.3" stroke="#000" stroke-width="5.6"/>
<line x1="276.5" y1="975.3" x2="284.0" y2="952.3" stroke="#008000" stroke-width="3.4"/>
<line x1="284.0" y1="952.3" x2="291.4" y2="929.3" stroke="#000" stroke-width="5.6"/>
<line x1="284.0" y1="952.3" x2="291.4" y2="929.3" stroke="#008000" stroke-width="3.4"/>
<line x1="347.8" y1="1186.6" x2="366.4" y2="1202.2" stroke="#000" stroke-width="5.6"/>
<line x1="347.8" y1="1186.6" x2="366.4" y2="1202.2" stroke="#ff0000" stroke-width="3.4"/>
<line x1="284.4" y1="1202.6" x2="293.0" y2="1225.2" stroke="#000" stroke-width="5.6"/>
<line x1="284.4" y1="1202.6" x2="293.0" y2="1225.2" stroke="#008000" stroke-width="3.4"/>
<line x1="293.0" y1="1225.2" x2="300.1" y2="1248.4" stroke="#000" stroke-width="5.6"/>
<line x1="293.0" y1="1225.2" x2="300.1" y2="1248.4" stroke="#008000" stroke-width="3.4"/>
</g>
<g stroke="#000" stroke-width="0.9">
<circle cx="145.4" cy="949.3" r="4.25" fill="#c8c800"/>
<circle cx="149.6" cy="946.6" r="4.25" fill="#c8c800"/>
<circle cx="153.9" cy="944.0" r="4.25" fill="#c8c800"/>
<circle cx="159.6" cy="968.9" r="3.75" fill="#c8c800"/>
<circle cx="121.6" cy="968.3" r="3.00" fill="#c8c800"/>
<circle cx="123.7" cy="966.4" r="3.25" fill="#c8c800"/>
<circle cx="125.9" cy="964.4" r="3.50" fill="#c8c800"/>
<circle cx="128.0" cy="962.5" r="3.00" fill="#c8c800"/>
<circle cx="130.2" cy="960.6" r="3.75" fill="#c8c800"/>
<circle cx="132.4" cy="958.8" r="3.00" fill="#c8c800"/>
<circle cx="134.7" cy="957.0" r="3.25" fill="#c8c800"/>
<circle cx="137.0" cy="955.2" r="3.50" fill="#c8c800"/>
<circle cx="139.3" cy="953.5" r="3.00" fill="#c8c800"/>
<circle cx="145.6" cy="979.3" r="4.00" fill="#c8c800"/>
<circle cx="162.1" cy="997.0" r="4.00" fill="#c8c800"/>
<circle cx="177.3" cy="932.7" r="4.00" fill="#c8c800"/>
<circle cx="181.2" cy="931.2" r="4.25" fill="#c8c800"/>
<circle cx="174.0" cy="934.0" r="3.50" fill="#c8c800"/>
<circle cx="189.3" cy="928.5" r="2.50" fill="#c8c800"/>
<circle cx="193.0" cy="927.4" r="2.75" fill="#c8c800"/>
<circle cx="198.1" cy="951.1" r="3.00" fill="#c8c800"/>
<circle cx="200.1" cy="925.5" r="1.75" fill="#c8c800"/>
<circle cx="203.2" cy="924.9" r="3.00" fill="#c8c800"/>
<circle cx="206.2" cy="924.2" r="2.75" fill="#c8c800"/>
<circle cx="209.2" cy="923.7" r="3.75" fill="#c8c800"/>
<circle cx="212.3" cy="923.1" r="3.50" fill="#c8c800"/>
<circle cx="215.4" cy="922.7" r="3.75" fill="#c8c800"/>
<circle cx="218.5" cy="922.3" r="4.00" fill="#c8c800"/>
<circle cx="213.4" cy="947.5" r="4.75" fill="#c8c800"/>
<circle cx="213.1" cy="972.2" r="4.75" fill="#c8c800"/>
<circle cx="227.9" cy="921.4" r="3.00" fill="#c8c800"/>
<circle cx="232.0" cy="921.1" r="4.00" fill="#c8c800"/>
<circle cx="231.5" cy="945.4" r="4.00" fill="#c8c800"/>
<circle cx="231.5" cy="969.6" r="4.00" fill="#c8c800"/>
<circle cx="242.6" cy="921.0" r="3.00" fill="#c8c800"/>
<circle cx="247.1" cy="921.2" r="4.00" fill="#c8c800"/>
<circle cx="244.2" cy="945.3" r="4.00" fill="#c8c800"/>
<circle cx="242.5" cy="969.4" r="4.25" fill="#c8c800"/>
<circle cx="241.3" cy="993.6" r="4.20" fill="#c8c800"/>
<circle cx="114.2" cy="976.0" r="3.50" fill="#c8c800"/>
<circle cx="131.9" cy="992.5" r="3.25" fill="#c8c800"/>
<circle cx="108.0" cy="983.1" r="3.75" fill="#c8c800"/>
<circle cx="105.8" cy="985.9" r="4.00" fill="#c8c800"/>
<circle cx="103.6" cy="988.7" r="4.00" fill="#c8c800"/>
<circle cx="101.5" cy="991.5" r="4.50" fill="#c8c800"/>
<circle cx="99.5" cy="994.5" r="4.50" fill="#c8c800"/>
<circle cx="97.5" cy="997.4" r="4.50" fill="#c8c800"/>
<circle cx="95.6" cy="1000.4" r="5.00" fill="#c8c800"/>
<circle cx="93.7" cy="1003.4" r="4.75" fill="#c8c800"/>
<circle cx="92.0" cy="1006.5" r="5.00" fill="#c8c800"/>
<circle cx="90.2" cy="1009.6" r="4.50" fill="#c8c800"/>
<circle cx="88.6" cy="1012.7" r="5.25" fill="#c8c800"/>
<circle cx="87.0" cy="1015.9" r="6.00" fill="#c8c800"/>
<circle cx="85.4" cy="1019.1" r="4.50" fill="#c8c800"/>
<circle cx="84.0" cy="1022.3" r="3.25" fill="#c8c800"/>
<circle cx="116.4" cy="1012.8" r="6.00" fill="#c8c800"/>
<circle cx="82.5" cy="1025.8" r="3.00" fill="#c8c800"/>
<circle cx="105.7" cy="1033.0" r="2.75" fill="#c8c800"/>
<circle cx="136.6" cy="1026.1" r="5.75" fill="#c8c800"/>
<circle cx="79.3" cy="1034.1" r="4.50" fill="#c8c800"/>
<circle cx="78.4" cy="1036.9" r="4.75" fill="#c8c800"/>
<circle cx="77.5" cy="1039.7" r="4.50" fill="#c8c800"/>
<circle cx="76.6" cy="1042.6" r="5.00" fill="#c8c800"/>
<circle cx="75.8" cy="1045.4" r="4.75" fill="#c8c800"/>
<circle cx="75.0" cy="1048.3" r="4.50" fill="#c8c800"/>
<circle cx="74.3" cy="1051.1" r="4.00" fill="#c8c800"/>
<circle cx="99.9" cy="1049.2" r="5.50" fill="#c8c800"/>
<circle cx="122.8" cy="1056.8" r="5.25" fill="#c8c800"/>
<circle cx="72.7" cy="1058.7" r="3.00" fill="#c8c800"/>
<circle cx="96.4" cy="1063.4" r="3.00" fill="#c8c800"/>
<circle cx="71.2" cy="1067.7" r="3.50" fill="#c8c800"/>
<circle cx="70.9" cy="1070.2" r="4.00" fill="#c8c800"/>
<circle cx="70.6" cy="1072.7" r="4.50" fill="#c8c800"/>
<circle cx="70.4" cy="1075.3" r="4.25" fill="#c8c800"/>
<circle cx="70.2" cy="1077.8" r="4.75" fill="#c8c800"/>
<circle cx="70.0" cy="1080.3" r="4.00" fill="#c8c800"/>
<circle cx="69.9" cy="1082.8" r="4.50" fill="#c8c800"/>
<circle cx="69.8" cy="1085.4" r="4.25" fill="#c8c800"/>
<circle cx="94.4" cy="1078.8" r="5.20" fill="#c8c800"/>
<circle cx="69.7" cy="1089.5" r="4.00" fill="#c8c800"/>
<circle cx="93.9" cy="1089.6" r="4.20" fill="#c8c800"/>
<circle cx="69.9" cy="1099.3" r="3.00" fill="#c8c800"/>
<circle cx="94.1" cy="1098.0" r="3.00" fill="#c8c800"/>
<circle cx="70.4" cy="1106.0" r="1.70" fill="#c8c800"/>
<circle cx="94.5" cy="1104.1" r="1.70" fill="#c8c800"/>
<circle cx="71.5" cy="1114.9" r="3.50" fill="#c8c800"/>
<circle cx="72.1" cy="1118.7" r="3.50" fill="#c8c800"/>
<circle cx="95.7" cy="1113.1" r="4.00" fill="#c8c800"/>
<circle cx="73.1" cy="1124.2" r="3.50" fill="#c8c800"/>
<circle cx="96.7" cy="1118.9" r="3.50" fill="#c8c800"/>
<circle cx="74.7" cy="1131.1" r="3.25" fill="#c8c800"/>
<circle cx="98.2" cy="1125.3" r="3.00" fill="#c8c800"/>
<circle cx="76.8" cy="1139.1" r="2.00" fill="#c8c800"/>
<circle cx="78.2" cy="1143.3" r="4.50" fill="#c8c800"/>
<circle cx="100.5" cy="1133.8" r="4.70" fill="#c8c800"/>
<circle cx="118.5" cy="1099.7" r="5.25" fill="#c8c800"/>
<circle cx="81.4" cy="1152.2" r="3.00" fill="#c8c800"/>
<circle cx="83.1" cy="1156.3" r="3.50" fill="#c8c800"/>
<circle cx="104.4" cy="1144.6" r="3.75" fill="#c8c800"/>
<circle cx="127.2" cy="1136.5" r="3.50" fill="#c8c800"/>
<circle cx="85.7" cy="1162.3" r="4.75" fill="#c8c800"/>
<circle cx="107.7" cy="1152.2" r="4.75" fill="#c8c800"/>
<circle cx="129.7" cy="1142.1" r="4.75" fill="#c8c800"/>
<circle cx="90.1" cy="1171.0" r="3.50" fill="#c8c800"/>
<circle cx="111.4" cy="1159.5" r="3.25" fill="#c8c800"/>
<circle cx="93.0" cy="1176.1" r="3.50" fill="#c8c800"/>
<circle cx="114.2" cy="1164.5" r="3.50" fill="#c8c800"/>
<circle cx="97.4" cy="1183.2" r="4.00" fill="#c8c800"/>
<circle cx="117.5" cy="1169.7" r="4.00" fill="#c8c800"/>
<circle cx="102.1" cy="1190.0" r="3.50" fill="#c8c800"/>
<circle cx="104.3" cy="1193.1" r="3.25" fill="#c8c800"/>
<circle cx="122.8" cy="1177.4" r="4.00" fill="#c8c800"/>
<circle cx="108.0" cy="1197.7" r="4.00" fill="#c8c800"/>
<circle cx="126.7" cy="1182.4" r="3.50" fill="#c8c800"/>
<circle cx="139.7" cy="1159.5" r="4.50" fill="#c8c800"/>
<circle cx="114.2" cy="1204.8" r="2.75" fill="#c8c800"/>
<circle cx="131.9" cy="1188.3" r="3.25" fill="#c8c800"/>
<circle cx="149.9" cy="1172.1" r="3.50" fill="#c8c800"/>
<circle cx="142.4" cy="1093.9" r="5.25" fill="#c8c800"/>
<circle cx="121.6" cy="1212.5" r="3.25" fill="#c8c800"/>
<circle cx="138.4" cy="1195.0" r="3.00" fill="#c8c800"/>
<circle cx="155.2" cy="1177.6" r="3.00" fill="#c8c800"/>
<circle cx="172.1" cy="1160.3" r="3.00" fill="#c8c800"/>
<circle cx="166.6" cy="1094.7" r="6.00" fill="#c8c800"/>
<circle cx="131.8" cy="1221.5" r="3.00" fill="#c8c800"/>
<circle cx="134.0" cy="1223.2" r="3.00" fill="#c8c800"/>
<circle cx="136.2" cy="1225.0" r="3.00" fill="#c8c800"/>
<circle cx="148.7" cy="1204.0" r="3.50" fill="#c8c800"/>
<circle cx="139.5" cy="1227.4" r="3.00" fill="#c8c800"/>
<circle cx="153.5" cy="1207.7" r="3.00" fill="#c8c800"/>
<circle cx="166.3" cy="1187.0" r="4.00" fill="#c8c800"/>
<circle cx="181.4" cy="1168.1" r="3.75" fill="#c8c800"/>
<circle cx="149.6" cy="1234.2" r="4.25" fill="#c8c800"/>
<circle cx="162.4" cy="1213.7" r="4.25" fill="#c8c800"/>
<circle cx="175.3" cy="1193.2" r="4.00" fill="#c8c800"/>
<circle cx="188.1" cy="1172.7" r="4.00" fill="#c8c800"/>
<circle cx="195.9" cy="1148.8" r="3.50" fill="#c8c800"/>
<circle cx="161.1" cy="1240.8" r="3.00" fill="#c8c800"/>
<circle cx="164.8" cy="1242.7" r="3.25" fill="#c8c800"/>
<circle cx="173.6" cy="1220.0" r="3.75" fill="#c8c800"/>
<circle cx="184.9" cy="1198.6" r="3.75" fill="#c8c800"/>
<circle cx="196.2" cy="1177.2" r="3.50" fill="#c8c800"/>
<circle cx="173.7" cy="1246.7" r="4.00" fill="#c8c800"/>
<circle cx="177.4" cy="1248.2" r="3.25" fill="#c8c800"/>
<circle cx="181.1" cy="1249.6" r="3.50" fill="#c8c800"/>
<circle cx="184.8" cy="1250.9" r="4.00" fill="#c8c800"/>
<circle cx="188.6" cy="1252.1" r="3.50" fill="#c8c800"/>
<circle cx="192.4" cy="1253.2" r="3.25" fill="#c8c800"/>
<circle cx="191.1" cy="1227.4" r="4.50" fill="#c8c800"/>
<circle cx="199.9" cy="1204.9" r="4.50" fill="#c8c800"/>
<circle cx="208.1" cy="1182.1" r="4.25" fill="#c8c800"/>
<circle cx="210.8" cy="1157.3" r="4.25" fill="#c8c800"/>
<circle cx="204.5" cy="1256.2" r="2.75" fill="#c8c800"/>
<circle cx="207.9" cy="1256.9" r="2.75" fill="#c8c800"/>
<circle cx="210.9" cy="1232.8" r="3.50" fill="#c8c800"/>
<circle cx="211.4" cy="1257.5" r="3.00" fill="#c8c800"/>
<circle cx="214.4" cy="1258.0" r="3.25" fill="#c8c800"/>
<circle cx="217.1" cy="1233.9" r="3.75" fill="#c8c800"/>
<circle cx="221.7" cy="1258.9" r="3.50" fill="#c8c800"/>
<circle cx="227.6" cy="1259.4" r="3.25" fill="#c8c800"/>
<circle cx="225.7" cy="1235.0" r="3.75" fill="#c8c800"/>
<circle cx="222.5" cy="1210.3" r="4.50" fill="#c8c800"/>
<circle cx="226.3" cy="1186.3" r="4.25" fill="#c8c800"/>
<circle cx="229.6" cy="1162.4" r="4.25" fill="#c8c800"/>
<circle cx="262.1" cy="922.6" r="4.75" fill="#c8c800"/>
<circle cx="258.6" cy="946.5" r="4.75" fill="#c8c800"/>
<circle cx="255.7" cy="970.5" r="4.75" fill="#c8c800"/>
<circle cx="273.5" cy="924.5" r="3.25" fill="#c8c800"/>
<circle cx="276.4" cy="925.2" r="3.75" fill="#c8c800"/>
<circle cx="279.4" cy="925.9" r="4.00" fill="#c8c800"/>
<circle cx="282.4" cy="926.6" r="3.50" fill="#c8c800"/>
<circle cx="271.5" cy="948.9" r="5.25" fill="#c8c800"/>
<circle cx="265.5" cy="972.3" r="5.25" fill="#c8c800"/>
<circle cx="252.1" cy="994.5" r="4.50" fill="#c8c800"/>
<circle cx="249.0" cy="1018.5" r="4.50" fill="#c8c800"/>
<circle cx="245.4" cy="1042.4" r="4.50" fill="#c8c800"/>
<circle cx="298.4" cy="931.7" r="3.00" fill="#c8c800"/>
<circle cx="302.0" cy="933.1" r="4.00" fill="#c8c800"/>
<circle cx="292.1" cy="955.2" r="4.25" fill="#c8c800"/>
<circle cx="282.7" cy="977.5" r="4.00" fill="#c8c800"/>
<circle cx="312.3" cy="937.6" r="3.50" fill="#c8c800"/>
<circle cx="301.8" cy="959.5" r="3.50" fill="#c8c800"/>
<circle cx="291.2" cy="981.2" r="3.50" fill="#c8c800"/>
<circle cx="317.8" cy="940.4" r="3.50" fill="#c8c800"/>
<circle cx="320.7" cy="942.0" r="4.00" fill="#c8c800"/>
<circle cx="323.6" cy="943.6" r="4.00" fill="#c8c800"/>
<circle cx="326.4" cy="945.3" r="3.50" fill="#c8c800"/>
<circle cx="329.3" cy="947.0" r="3.75" fill="#c8c800"/>
<circle cx="332.0" cy="948.8" r="3.25" fill="#c8c800"/>
<circle cx="334.8" cy="950.6" r="3.75" fill="#c8c800"/>
<circle cx="337.5" cy="952.5" r="4.00" fill="#c8c800"/>
<circle cx="340.1" cy="954.4" r="3.50" fill="#c8c800"/>
<circle cx="342.7" cy="956.4" r="4.25" fill="#c8c800"/>
<circle cx="345.3" cy="958.4" r="3.25" fill="#c8c800"/>
<circle cx="347.9" cy="960.5" r="3.75" fill="#c8c800"/>
<circle cx="350.4" cy="962.7" r="4.25" fill="#c8c800"/>
<circle cx="352.8" cy="964.9" r="3.50" fill="#c8c800"/>
<circle cx="355.2" cy="967.1" r="3.75" fill="#c8c800"/>
<circle cx="357.6" cy="969.4" r="3.50" fill="#c8c800"/>
<circle cx="359.7" cy="971.5" r="5.00" fill="#c8c800"/>
<circle cx="325.7" cy="973.8" r="5.50" fill="#c8c800"/>
<circle cx="310.9" cy="993.0" r="5.75" fill="#c8c800"/>
<circle cx="283.9" cy="1004.6" r="5.75" fill="#c8c800"/>
<circle cx="272.3" cy="1025.8" r="5.75" fill="#c8c800"/>
<circle cx="261.1" cy="1047.3" r="5.75" fill="#c8c800"/>
<circle cx="369.2" cy="982.0" r="3.75" fill="#c8c800"/>
<circle cx="350.5" cy="997.3" r="3.75" fill="#c8c800"/>
<circle cx="373.7" cy="987.5" r="3.25" fill="#c8c800"/>
<circle cx="354.4" cy="1002.2" r="3.25" fill="#c8c800"/>
<circle cx="332.6" cy="1013.6" r="3.75" fill="#c8c800"/>
<circle cx="313.7" cy="1028.7" r="3.50" fill="#c8c800"/>
<circle cx="380.0" cy="996.4" r="4.00" fill="#c8c800"/>
<circle cx="360.0" cy="1010.0" r="3.75" fill="#c8c800"/>
<circle cx="384.0" cy="1002.6" r="4.25" fill="#c8c800"/>
<circle cx="363.4" cy="1015.4" r="4.00" fill="#c8c800"/>
<circle cx="340.1" cy="1023.8" r="4.00" fill="#c8c800"/>
<circle cx="319.7" cy="1036.8" r="4.00" fill="#c8c800"/>
<circle cx="297.2" cy="1046.8" r="4.00" fill="#c8c800"/>
<circle cx="388.7" cy="1010.9" r="3.50" fill="#c8c800"/>
<circle cx="389.9" cy="1013.3" r="3.50" fill="#c8c800"/>
<circle cx="391.2" cy="1015.8" r="3.50" fill="#c8c800"/>
<circle cx="392.4" cy="1018.3" r="3.50" fill="#c8c800"/>
<circle cx="369.2" cy="1025.8" r="4.50" fill="#c8c800"/>
<circle cx="347.2" cy="1036.0" r="4.25" fill="#c8c800"/>
<circle cx="325.3" cy="1046.5" r="4.25" fill="#c8c800"/>
<circle cx="397.6" cy="1030.5" r="3.50" fill="#c8c800"/>
<circle cx="374.8" cy="1038.8" r="3.25" fill="#c8c800"/>
<circle cx="352.3" cy="1047.6" r="3.25" fill="#c8c800"/>
<circle cx="329.7" cy="1056.2" r="3.25" fill="#c8c800"/>
<circle cx="400.4" cy="1038.6" r="3.50" fill="#c8c800"/>
<circle cx="401.3" cy="1041.6" r="4.00" fill="#c8c800"/>
<circle cx="402.2" cy="1044.7" r="3.75" fill="#c8c800"/>
<circle cx="403.0" cy="1047.7" r="4.25" fill="#c8c800"/>
<circle cx="403.8" cy="1050.8" r="4.00" fill="#c8c800"/>
<circle cx="404.5" cy="1053.9" r="4.50" fill="#c8c800"/>
<circle cx="405.2" cy="1057.0" r="4.00" fill="#c8c800"/>
<circle cx="405.8" cy="1060.1" r="4.25" fill="#c8c800"/>
<circle cx="380.5" cy="1057.5" r="5.25" fill="#c8c800"/>
<circle cx="356.8" cy="1062.4" r="5.00" fill="#c8c800"/>
<circle cx="333.1" cy="1067.1" r="5.50" fill="#c8c800"/>
<circle cx="408.0" cy="1077.7" r="3.50" fill="#c8c800"/>
<circle cx="383.9" cy="1080.3" r="3.50" fill="#c8c800"/>
<circle cx="408.3" cy="1082.7" r="3.25" fill="#c8c800"/>
<circle cx="408.5" cy="1086.9" r="2.50" fill="#c8c800"/>
<circle cx="384.2" cy="1086.1" r="3.75" fill="#c8c800"/>
<circle cx="359.9" cy="1083.4" r="4.00" fill="#c8c800"/>
<circle cx="335.7" cy="1084.3" r="4.00" fill="#c8c800"/>
<circle cx="309.3" cy="1071.7" r="5.25" fill="#c8c800"/>
<circle cx="284.1" cy="1072.5" r="5.00" fill="#c8c800"/>
<circle cx="408.1" cy="1102.2" r="3.25" fill="#c8c800"/>
<circle cx="407.8" cy="1106.0" r="3.25" fill="#c8c800"/>
<circle cx="383.8" cy="1102.3" r="3.75" fill="#c8c800"/>
<circle cx="359.7" cy="1099.7" r="3.75" fill="#c8c800"/>
<circle cx="335.7" cy="1097.2" r="3.75" fill="#c8c800"/>
<circle cx="406.1" cy="1118.9" r="3.00" fill="#c8c800"/>
<circle cx="382.2" cy="1114.9" r="2.75" fill="#c8c800"/>
<circle cx="358.4" cy="1110.6" r="2.75" fill="#c8c800"/>
<circle cx="334.6" cy="1106.4" r="2.75" fill="#c8c800"/>
<circle cx="404.4" cy="1127.6" r="1.75" fill="#c8c800"/>
<circle cx="403.5" cy="1131.4" r="1.75" fill="#c8c800"/>
<circle cx="402.5" cy="1135.1" r="5.00" fill="#c8c800"/>
<circle cx="379.9" cy="1125.8" r="1.75" fill="#c8c800"/>
<circle cx="356.7" cy="1119.1" r="4.75" fill="#c8c800"/>
<circle cx="399.2" cy="1145.8" r="3.00" fill="#c8c800"/>
<circle cx="376.4" cy="1137.7" r="3.00" fill="#c8c800"/>
<circle cx="397.4" cy="1150.8" r="2.00" fill="#c8c800"/>
<circle cx="396.1" cy="1154.1" r="5.75" fill="#c8c800"/>
<circle cx="374.1" cy="1143.9" r="5.75" fill="#c8c800"/>
<circle cx="352.9" cy="1131.6" r="5.75" fill="#c8c800"/>
<circle cx="391.4" cy="1164.7" r="3.00" fill="#c8c800"/>
<circle cx="369.7" cy="1153.8" r="3.00" fill="#c8c800"/>
<circle cx="388.1" cy="1171.0" r="1.75" fill="#c8c800"/>
<circle cx="366.7" cy="1159.7" r="1.75" fill="#c8c800"/>
<circle cx="347.7" cy="1143.8" r="3.00" fill="#c8c800"/>
<circle cx="383.7" cy="1178.7" r="4.25" fill="#c8c800"/>
<circle cx="362.9" cy="1166.3" r="4.00" fill="#c8c800"/>
<circle cx="381.2" cy="1182.7" r="3.00" fill="#c8c800"/>
<circle cx="379.2" cy="1185.6" r="3.25" fill="#c8c800"/>
<circle cx="377.2" cy="1188.5" r="3.50" fill="#c8c800"/>
<circle cx="375.1" cy="1191.4" r="3.00" fill="#c8c800"/>
<circle cx="358.3" cy="1173.3" r="3.50" fill="#c8c800"/>
<circle cx="371.3" cy="1196.3" r="3.50" fill="#c8c800"/>
<circle cx="352.3" cy="1181.4" r="3.50" fill="#c8c800"/>
<circle cx="363.0" cy="1205.9" r="3.25" fill="#c8c800"/>
<circle cx="357.6" cy="1211.4" r="3.50" fill="#c8c800"/>
<circle cx="355.1" cy="1213.9" r="4.00" fill="#c8c800"/>
<circle cx="340.0" cy="1194.8" r="4.25" fill="#c8c800"/>
<circle cx="349.6" cy="1218.8" r="3.50" fill="#c8c800"/>
<circle cx="345.9" cy="1221.9" r="3.75" fill="#c8c800"/>
<circle cx="332.4" cy="1201.6" r="4.00" fill="#c8c800"/>
<circle cx="342.7" cy="1224.4" r="4.00" fill="#c8c800"/>
<circle cx="340.5" cy="1226.1" r="3.75" fill="#c8c800"/>
<circle cx="338.2" cy="1227.8" r="4.25" fill="#c8c800"/>
<circle cx="336.0" cy="1229.4" r="4.00" fill="#c8c800"/>
<circle cx="333.7" cy="1230.9" r="4.50" fill="#c8c800"/>
<circle cx="331.4" cy="1232.5" r="4.00" fill="#c8c800"/>
<circle cx="322.6" cy="1209.2" r="5.50" fill="#c8c800"/>
<circle cx="324.6" cy="1236.7" r="5.25" fill="#c8c800"/>
<circle cx="312.1" cy="1215.9" r="5.25" fill="#c8c800"/>
<circle cx="325.0" cy="1175.7" r="5.75" fill="#c8c800"/>
<circle cx="313.4" cy="1242.7" r="4.00" fill="#c8c800"/>
<circle cx="302.5" cy="1221.0" r="3.75" fill="#c8c800"/>
<circle cx="292.0" cy="1199.2" r="3.75" fill="#c8c800"/>
<circle cx="281.8" cy="1177.3" r="3.75" fill="#c8c800"/>
<circle cx="270.6" cy="1155.8" r="3.75" fill="#c8c800"/>
<circle cx="289.8" cy="1252.0" r="5.25" fill="#c8c800"/>
<circle cx="282.3" cy="1229.0" r="5.00" fill="#c8c800"/>
<circle cx="275.1" cy="1205.9" r="4.75" fill="#c8c800"/>
<circle cx="305.3" cy="1246.3" r="3.50" fill="#c8c800"/>
<circle cx="273.6" cy="1180.8" r="5.20" fill="#c8c800"/>
<circle cx="264.6" cy="1158.4" r="4.70" fill="#c8c800"/>
<circle cx="266.8" cy="1257.5" r="2.50" fill="#c8c800"/>
<circle cx="263.1" cy="1233.6" r="2.25" fill="#c8c800"/>
<circle cx="275.8" cy="1255.8" r="3.00" fill="#c8c800"/>
<circle cx="279.5" cy="1254.9" r="3.00" fill="#c8c800"/>
<circle cx="271.8" cy="1231.9" r="3.50" fill="#c8c800"/>
<circle cx="264.9" cy="1208.6" r="3.50" fill="#c8c800"/>
<circle cx="260.1" cy="1184.9" r="3.50" fill="#c8c800"/>
<circle cx="255.1" cy="1161.2" r="3.50" fill="#c8c800"/>
<circle cx="254.7" cy="1259.1" r="3.75" fill="#c8c800"/>
<circle cx="252.5" cy="1235.0" r="3.50" fill="#c8c800"/>
<circle cx="250.1" cy="1210.9" r="3.50" fill="#c8c800"/>
<circle cx="247.9" cy="1186.8" r="3.50" fill="#c8c800"/>
<circle cx="245.9" cy="1162.7" r="3.25" fill="#c8c800"/>
<circle cx="239.1" cy="1259.8" r="3.25" fill="#c8c800"/>
<circle cx="243.2" cy="1259.7" r="3.25" fill="#c8c800"/>
<circle cx="240.9" cy="1235.6" r="3.50" fill="#c8c800"/>
<circle cx="241.2" cy="1211.4" r="3.50" fill="#c8c800"/>
<circle cx="240.8" cy="1187.2" r="3.50" fill="#c8c800"/>
<circle cx="240.9" cy="1163.0" r="3.25" fill="#c8c800"/>
<circle cx="239.9" cy="1138.8" r="3.50" fill="#c8c800"/>
<circle cx="214.9" cy="1090.4" r="6.50" fill="#c8c800"/>
<circle cx="239.1" cy="1090.4" r="1.1" fill="#a8a800" stroke="#6b6b00" stroke-width="0.4"/>
<circle cx="159.6" cy="940.8" r="5.25" fill="#008000" stroke-width="1.6"/>
<circle cx="166.7" cy="937.2" r="5.25" fill="#008000" stroke-width="1.6"/>
<circle cx="171.0" cy="935.3" r="5.25" fill="#008000" stroke-width="1.6"/>
<circle cx="176.8" cy="959.2" r="5.25" fill="#008000" stroke-width="1.6"/>
<circle cx="186.4" cy="981.5" r="5.50" fill="#008000" stroke-width="1.6"/>
<circle cx="200.2" cy="1001.8" r="5.75" fill="#008000" stroke-width="1.6"/>
<circle cx="212.0" cy="1023.0" r="5.75" fill="#008000" stroke-width="1.6"/>
<circle cx="190.7" cy="1088.2" r="6.00" fill="#008000" stroke-width="1.6"/>
<circle cx="291.4" cy="929.3" r="5.00" fill="#008000" stroke-width="1.6"/>
<circle cx="284.0" cy="952.3" r="5.00" fill="#008000" stroke-width="1.6"/>
<circle cx="276.5" cy="975.3" r="5.00" fill="#008000" stroke-width="1.6"/>
<circle cx="406.6" cy="1065.1" r="4.75" fill="#ff0000" stroke-width="1.6"/>
<circle cx="366.4" cy="1202.2" r="5.75" fill="#ff0000" stroke-width="1.6"/>
<circle cx="347.8" cy="1186.6" r="5.75" fill="#ff0000" stroke-width="1.6"/>
<circle cx="318.2" cy="1146.2" r="6.00" fill="#ff0000" stroke-width="1.6"/>
<circle cx="301.3" cy="1127.9" r="6.00" fill="#ff0000" stroke-width="1.6"/>
<circle cx="300.1" cy="1248.4" r="5.00" fill="#008000" stroke-width="1.6"/>
<circle cx="293.0" cy="1225.2" r="5.00" fill="#008000" stroke-width="1.6"/>
<circle cx="284.4" cy="1202.6" r="5.00" fill="#008000" stroke-width="1.6"/>
<circle cx="274.3" cy="1123.6" r="6.00" fill="#ff0000" stroke-width="1.6"/>
</g>
<g font-family="Liberation Sans, sans-serif" font-size="12.45">
<text x="214.6" y="836.4">Cladogram</text>
<rect x="12" y="864.6" width="37" height="12.5" fill="#ff0000"/>
<rect x="12" y="891.2" width="37" height="12.5" fill="#008000"/>
<text x="55" y="874.6">post-antibotic</text>
<text x="55" y="901.2">pre-antibiotic</text>
<rect x="496.6" y="852.6" width="22.2" height="6.7" fill="#008000" stroke="#000" stroke-width="1.5"/>
<text x="527.1" y="859.6">a: f__Rikenellaceae</text>
<rect x="496.6" y="868.9" width="22.2" height="6.7" fill="#008000" stroke="#000" stroke-width="1.5"/>
<text x="527.1" y="875.9">b: f__Lactobacillaceae</text>
<rect x="496.6" y="885.2" width="22.2" height="6.7" fill="#008000" stroke="#000" stroke-width="1.5"/>
<text x="527.1" y="892.2">c: o__Lactobacillales</text>
<rect x="496.6" y="901.5" width="22.2" height="6.7" fill="#008000" stroke="#000" stroke-width="1.5"/>
<text x="527.1" y="908.5">d: c__Bacilli</text>
<rect x="496.6" y="917.8" width="22.2" height="6.7" fill="#008000" stroke="#000" stroke-width="1.5"/>
<text x="527.1" y="924.8">e: f__Desulfovibrionaceae</text>
<rect x="496.6" y="934.1" width="22.2" height="6.7" fill="#ff0000" stroke="#000" stroke-width="1.5"/>
<text x="527.1" y="941.1">f: o__Enterobacterales</text>
<rect x="496.6" y="950.4" width="22.2" height="6.7" fill="#ff0000" stroke="#000" stroke-width="1.5"/>
<text x="527.1" y="957.4">g: c__Gammaproteobacteria</text>
<text x="20.7" y="1081.2" font-size="12.45" fill="#0a4d0a" text-anchor="middle" transform="rotate(-86.2 20.7 1081.2)">p__Firmicutes</text>
<text x="392.6" y="1249.4" font-size="12.45" fill="#7a1010" text-anchor="middle" transform="rotate(136.0 392.6 1249.4)">p__Proteobacteria</text>
</g>
</svg></body></html>
